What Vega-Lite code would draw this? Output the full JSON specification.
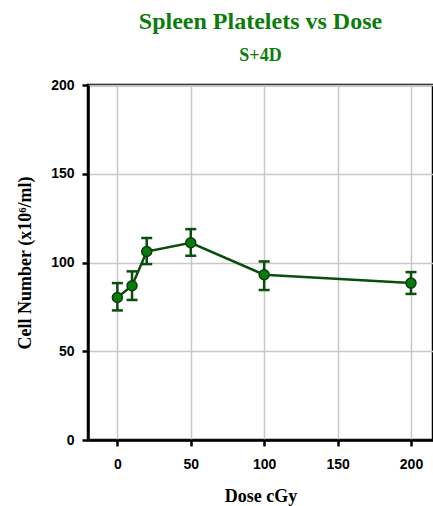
{
  "$schema": "https://vega.github.io/schema/vega-lite/v6.json",
  "width": 345,
  "height": 355,
  "autosize": {"type": "none"},
  "padding": {"left": 88, "top": 85, "right": 0, "bottom": 66},
  "background": "white",
  "title": {
    "text": "Spleen Platelets vs Dose",
    "subtitle": "S+4D",
    "anchor": "middle",
    "offset": 13,
    "font": "Liberation Serif",
    "fontSize": 24,
    "fontWeight": "bold",
    "color": "#0b7d0b",
    "subtitleFont": "Liberation Serif",
    "subtitleFontSize": 18,
    "subtitleFontWeight": "bold",
    "subtitleColor": "#0b7d0b",
    "subtitlePadding": 13,
    "encode": {
      "subtitle": {
        "update": {
          "font": {"value": "Liberation Serif"},
          "fontSize": {"value": 18},
          "fontWeight": {"value": "bold"},
          "fill": {"value": "#0b7d0b"}
        }
      }
    }
  },
  "data": {
    "values": [
      {"dose": 0, "mean": 80.3, "lo": 73.0, "hi": 88.4},
      {"dose": 10, "mean": 86.9, "lo": 78.9, "hi": 95.0},
      {"dose": 20, "mean": 106.2, "lo": 99.1, "hi": 113.8},
      {"dose": 50, "mean": 111.1, "lo": 103.8, "hi": 118.8},
      {"dose": 100, "mean": 93.1, "lo": 84.5, "hi": 100.6},
      {"dose": 200, "mean": 88.4, "lo": 82.3, "hi": 94.6}
    ]
  },
  "config": {
    "view": {"stroke": "black", "strokeWidth": 2.5},
    "axis": {
      "labelFont": "Liberation Sans",
      "labelFontWeight": "bold",
      "labelFontSize": 14,
      "labelColor": "black",
      "titleFont": "Liberation Serif",
      "titleFontWeight": "bold",
      "titleFontSize": 18,
      "titleColor": "black",
      "domainColor": "black",
      "domainWidth": 2.5,
      "tickColor": "black",
      "tickWidth": 2.5,
      "tickSize": 6,
      "gridColor": "#c8c8c8",
      "gridWidth": 1.5,
      "gridOpacity": 1
    }
  },
  "encoding": {
    "x": {
      "field": "dose", "type": "quantitative",
      "scale": {"domain": [-20, 215], "nice": false, "zero": false},
      "axis": {"values": [0, 50, 100, 150, 200], "title": "Dose cGy", "labelPadding": 11, "titlePadding": 16}
    }
  },
  "layer": [
    {
      "mark": {"type": "rule", "color": "#0b4d0b", "strokeWidth": 2.5},
      "encoding": {
        "y": {
          "field": "lo", "type": "quantitative",
          "scale": {"domain": [0, 200], "nice": false},
          "axis": {"values": [0, 50, 100, 150, 200], "title": "Cell Number (x10⁶/ml)", "labelPadding": 8, "titlePadding": 16}
        },
        "y2": {"field": "hi"}
      }
    },
    {
      "mark": {"type": "tick", "orient": "horizontal", "color": "#0b4d0b", "size": 11, "thickness": 2.5, "opacity": 1},
      "encoding": {"y": {"field": "lo", "type": "quantitative"}}
    },
    {
      "mark": {"type": "tick", "orient": "horizontal", "color": "#0b4d0b", "size": 11, "thickness": 2.5, "opacity": 1},
      "encoding": {"y": {"field": "hi", "type": "quantitative"}}
    },
    {
      "mark": {"type": "line", "color": "#0b4d0b", "strokeWidth": 2.5},
      "encoding": {"y": {"field": "mean", "type": "quantitative"}}
    },
    {
      "mark": {"type": "point", "shape": "circle", "filled": true, "size": 100, "fill": "#0a7a0a", "stroke": "#0b3d0b", "strokeWidth": 1.5, "opacity": 1},
      "encoding": {"y": {"field": "mean", "type": "quantitative"}}
    }
  ]
}
